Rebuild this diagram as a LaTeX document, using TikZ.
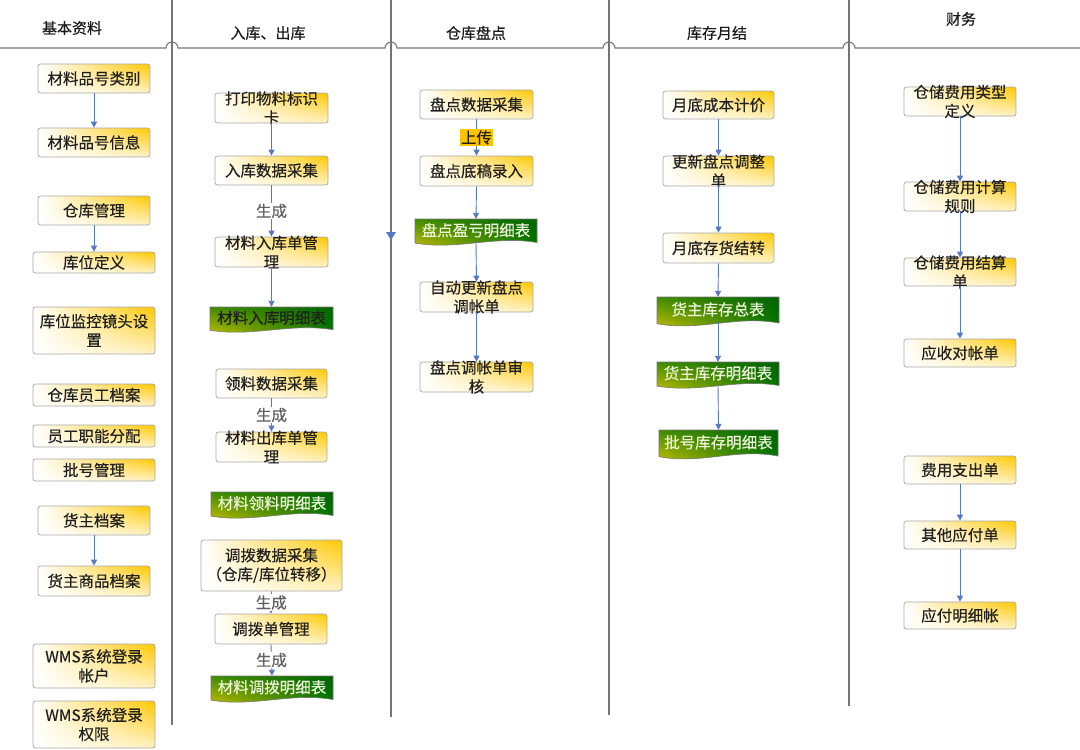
\documentclass[tikz,border=0pt]{standalone}
\usepackage{fontspec}
\setmainfont{Noto Sans CJK SC}[FakeBold=0.35]
\usetikzlibrary{arrows.meta,shadings}
\definecolor{boxY}{HTML}{FFC800}
\definecolor{boxYl}{HTML}{FFF2C4}
\definecolor{boxline}{HTML}{A8A8A8}
\definecolor{arr}{HTML}{5679C4}
\definecolor{lanec}{HTML}{757575}
\definecolor{txt}{HTML}{202020}
\definecolor{dgA}{HTML}{3F8C00}
\definecolor{dgB}{HTML}{D4C200}
\definecolor{dgC}{HTML}{006400}
\definecolor{dgD}{HTML}{007800}
\definecolor{upl}{HTML}{FFC400}
\definecolor{docw}{HTML}{EEF4DC}
\tikzset{
  cjk/.style={font=\fontsize{15.5}{19}\selectfont},
  box/.style={cjk, draw=boxline, line width=0.7pt, rounded corners=2.5pt, shade,
    upper left=white, lower left=white, upper right=boxY, lower right=boxYl,
    inner sep=0pt, text=txt},
  lbl/.style={cjk, align=center, inner sep=0pt, text=txt},
  docsh/.style={draw=boxline!70!black, line width=0.6pt, shade,
    upper left=dgA, lower left=dgB, upper right=dgC, lower right=dgD},
  doctxt/.style={cjk, inner sep=0pt},
  hdr/.style={font=\fontsize{15}{17}\selectfont, text=black!90, inner sep=0pt},
  lane/.style={draw=lanec, line width=1.1pt},
  conn/.style={draw=arr, line width=0.9pt, -{Triangle[width=6pt,length=6pt]}},
  gen/.style={cjk, fill=white, text=black!62, inner sep=1pt},
  upload/.style={cjk, fill=upl, text=txt, inner sep=1pt}
}
\newcommand\bx[6]{\node[box, minimum width={#4-#2}, minimum height={#5-#3}] (#1) at ({(#2+#4)/2},{(#3+#5)/2}) {#6};}
\newcommand\bxx[6]{\node[box, minimum width={#4-#2}, minimum height={#5-#3}, label={[lbl]center:{#6}}] (#1) at ({(#2+#4)/2},{(#3+#5)/2}) {};}
\newcommand\dc[7]{%
  \shade[docsh] (#2,#3) -- (#4,#3) -- ({#4},{#3+0.84*(#5-#3)})
    .. controls ({#4-0.35*(#4-#2)},{#3+0.58*(#5-#3)}) and ({#2+0.35*(#4-#2)},{#3+1.12*(#5-#3)})
    .. ({#2},{#3+0.86*(#5-#3)}) -- cycle;
  \node[doctxt, text=#6, minimum width={#4-#2}, minimum height={0.8*(#5-#3)}] (#1) at ({(#2+#4)/2},{#3+0.4*(#5-#3)}) {#7};}
\begin{document}
\begin{tikzpicture}[x=1pt,y=-1pt]
\useasboundingbox (0,0) rectangle (1080,750);
% lanes
\draw[lane] (0,48) -- (166,48) arc[start angle=180,end angle=0,radius=6pt]
  -- (385,48) arc[start angle=180,end angle=0,radius=6pt]
  -- (603,48) arc[start angle=180,end angle=0,radius=6pt]
  -- (843,48) arc[start angle=180,end angle=0,radius=6pt] -- (1080,48);
\draw[lane] (172,0) -- (172,725);
\draw[lane] (391,0) -- (391,717);
\draw[lane] (609,0) -- (609,715);
\draw[lane] (849,0) -- (849,706);
\fill[arr] (386,232) -- (396,232) -- (391,240) -- cycle;
% headers
\node[hdr] (h1) at (72,28) {基本资料};
\node[hdr] (h2) at (268,33) {入库、出库};
\node[hdr] (h3) at (476,33) {仓库盘点};
\node[hdr] (h4) at (717,33) {库存月结};
\node[hdr] (h5) at (961,19) {财务};
% column 1
\bx{a1}{38}{64}{150}{93}{材料品号类别}
\bx{a2}{38}{128}{150}{157}{材料品号信息}
\bx{a3}{38}{196}{150}{225}{仓库管理}
\bx{a4}{33}{252}{155}{273}{库位定义}
\bxx{a5}{33}{307}{155}{354}{库位监控镜头设\\置}
\bx{a6}{33}{384}{155}{406}{仓库员工档案}
\bx{a7}{33}{425}{155}{447}{员工职能分配}
\bx{a8}{33}{459}{155}{481}{批号管理}
\bx{a9}{38}{506}{150}{535}{货主档案}
\bx{a10}{38}{566}{150}{596}{货主商品档案}
\bxx{a11}{33}{644}{155}{688}{WMS系统登录\\帐户}
\bxx{a12}{33}{701}{155}{748}{WMS系统登录\\权限}
\draw[conn] (a1.south) -- (a2.north);
\draw[conn] (a3.south) -- (a4.north);
\draw[conn] (a9.south) -- (a10.north);
% column 2
\bxx{b1}{215}{93}{328}{123}{打印物料标识\\卡}
\bx{b2}{215}{156}{328}{185}{入库数据采集}
\bxx{b3}{215}{237}{328}{267}{材料入库单管\\理}
\dc{b4}{210}{307}{333}{334}{txt}{材料入库明细表}
\bx{b5}{216}{369}{327}{398}{领料数据采集}
\bxx{b6}{216}{432}{327}{462}{材料出库单管\\理}
\dc{b7}{211}{492}{333}{520}{docw}{材料领料明细表}
\bxx{b8}{201}{540}{342}{591}{调拨数据采集\\（仓库/库位转移）}
\bx{b9}{215}{614}{327}{644}{调拨单管理}
\dc{b10}{211}{676}{333}{704}{docw}{材料调拨明细表}
\draw[conn] (b1.south) -- (b2.north);
\draw[conn] (b2.south) -- node[gen] {生成} (b3.north);
\draw[conn] (b3.south) -- (b4.north);
\draw[conn] (b5.south) -- node[gen] {生成} (b6.north);
\draw[conn] (b8.south) -- node[gen] {生成} (b9.north);
\draw[conn] (b9.south) -- node[gen] {生成} (b10.north);
% column 3
\bx{c1}{420}{90}{533}{119}{盘点数据采集}
\bx{c2}{420}{156}{533}{186}{盘点底稿录入}
\dc{c3}{415}{219}{537}{247}{docw}{盘点盈亏明细表}
\bxx{c4}{420}{282}{533}{312}{自动更新盘点\\调帐单}
\bxx{c5}{420}{362}{533}{392}{盘点调帐单审\\核}
\draw[conn] (c1.south) -- node[upload] {上传} (c2.north);
\draw[conn] (c2.south) -- (c3.north);
\draw[conn] (c3.south) -- (c4.north);
\draw[conn] (c4.south) -- (c5.north);
% column 4
\bx{d1}{663}{91}{774}{119}{月底成本计价}
\bxx{d2}{663}{156}{774}{186}{更新盘点调整\\单}
\bx{d3}{663}{233}{774}{263}{月底存货结转}
\dc{d4}{657}{297}{779}{328}{docw}{货主库存总表}
\dc{d5}{657}{362}{779}{390}{docw}{货主库存明细表}
\dc{d6}{659}{430}{778}{461}{docw}{批号库存明细表}
\draw[conn] (d1.south) -- (d2.north);
\draw[conn] (d2.south) -- (d3.north);
\draw[conn] (d3.south) -- (d4.north);
\draw[conn] (d4.south) -- (d5.north);
\draw[conn] (d5.south) -- (d6.north);
% column 5
\bxx{e1}{904}{87}{1016}{116}{仓储费用类型\\定义}
\bxx{e2}{904}{182}{1016}{211}{仓储费用计算\\规则}
\bxx{e3}{904}{258}{1016}{286}{仓储费用结算\\单}
\bx{e4}{904}{339}{1016}{367}{应收对帐单}
\bx{e5}{904}{456}{1016}{484}{费用支出单}
\bx{e6}{904}{521}{1016}{549}{其他应付单}
\bx{e7}{904}{602}{1016}{629}{应付明细帐}
\draw[conn] (e1.south) -- (e2.north);
\draw[conn] (e2.south) -- (e3.north);
\draw[conn] (e3.south) -- (e4.north);
\draw[conn] (e5.south) -- (e6.north);
\draw[conn] (e6.south) -- (e7.north);
\end{tikzpicture}
\end{document}
